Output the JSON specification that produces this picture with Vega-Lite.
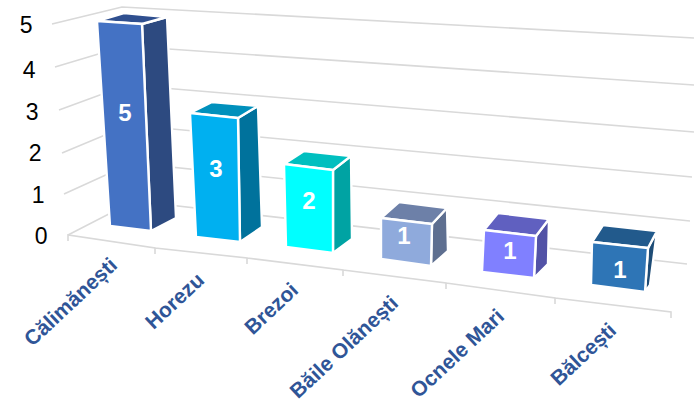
{
"$schema":"https://vega.github.io/schema/vega-lite/v6.json",
"width":600,"height":210,
"autosize":{"type":"none"},
"padding":{"left":70,"top":25,"right":24,"bottom":167},
"background":"white",
"config":{"view":{"stroke":null}},
"params":[
{"name":"catDx","value":{"Călimănești":-22.8,"Horezu":-42.5,"Brezoi":-53.7,"Băile Olănești":-62.6,"Ocnele Mari":-67.1,"Bălcești":-67.9}},
{"name":"catDy","value":{"Călimănești":15.6,"Horezu":17.7,"Brezoi":21,"Băile Olănești":30.5,"Ocnele Mari":44.1,"Bălcești":62.5}},
{"name":"numDx","value":{"Călimănești":5,"Horezu":-4,"Brezoi":-11,"Băile Olănești":-16,"Ocnele Mari":-10,"Bălcești":0}},
{"name":"numDy","value":{"Călimănești":89,"Horezu":61,"Brezoi":51,"Băile Olănești":44,"Ocnele Mari":59,"Bălcești":78}},
{"name":"tickDx","value":[0,-3,-6,-9,-12,-15]},
{"name":"tickDy","value":[1,2,2,3,3,0]}
],
"datasets":{
"bars":[
{"name":"Călimănești","value":5},
{"name":"Horezu","value":3},
{"name":"Brezoi","value":2},
{"name":"Băile Olănești","value":1},
{"name":"Ocnele Mari","value":1},
{"name":"Bălcești","value":1}
],
"levels":[{"level":0},{"level":1},{"level":2},{"level":3},{"level":4},{"level":5}]
},
"encoding":{
"x":{"field":"name","type":"nominal","sort":null,
"scale":{"type":"point","padding":0.5,"domain":["Călimănești","Horezu","Brezoi","Băile Olănești","Ocnele Mari","Bălcești"]},
"axis":{"title":null,"orient":"bottom","domain":false,"ticks":false,"grid":false,"labelAngle":-43,"labelAlign":"right","labelBaseline":"middle","labelPadding":0,"labelFont":"Liberation Sans","labelFontSize":21,"labelFontWeight":"bold","labelColor":"#2F5597","labelOverlap":false,"labelBound":false,"labelFlush":false,"labelLimit":300,"zindex":1,
"encoding":{"labels":{"dx":{"value":{"signal":"catDx[datum.value]"}},"dy":{"value":{"signal":"catDy[datum.value]"}}}}}},
"y":{"field":"value","type":"quantitative",
"scale":{"domain":[0,5],"nice":false},
"axis":{"title":null,"orient":"left","domain":false,"ticks":false,"grid":false,"values":[0,1,2,3,4,5],"format":"d","labelPadding":23,"labelFont":"Liberation Sans","labelFontSize":23,"labelColor":"#000000","labelOverlap":false,"labelBound":false,"labelFlush":false,
"encoding":{"labels":{"dx":{"value":{"signal":"tickDx[datum.value]"}},"dy":{"value":{"signal":"tickDy[datum.value]"}}}}}}
},
"layer":[
{"data":{"name":"levels"},
"mark":{"type":"point","filled":false,"size":4,"stroke":"#D9D9D9","strokeWidth":1.6,"opacity":1},
"encoding":{
"x":{"datum":"Călimănești","type":"nominal"},
"y":{"field":"level","type":"quantitative"},
"shape":{"field":"level","type":"nominal","legend":null,"scale":{"domain":[0,1,2,3,4,5],"range":[
"M-52 0L14 -34L567 29",
"M-56 1L12 -30L570 28",
"M-58 2L9 -26L572 26",
"M-61 1L7 -24L574 23",
"M-65 0L5 -21L574 18",
"M-68 -1L2 -18L574 13"
]}}
}},
{"data":{"values":[{"level":0}]},
"mark":{"type":"point","filled":false,"size":4,"stroke":"#D9D9D9","strokeWidth":1.6,"opacity":1,
"shape":"M-52 6L-52 0L35 13L35 19M35 13L127 23L127 29M127 23L223 35L223 41M223 35L326 48L326 54M326 48L435 63L435 69M435 63L551 77L551 83"},
"encoding":{
"x":{"datum":"Călimănești","type":"nominal"},
"y":{"field":"level","type":"quantitative"}
}},
{"data":{"name":"bars"},
"mark":{"type":"point","filled":true,"size":4,"stroke":"white","strokeWidth":2.4,"opacity":1},
"encoding":{
"color":{"field":"name","type":"nominal","legend":null,"scale":{"domain":["Călimănești","Horezu","Brezoi","Băile Olănești","Ocnele Mari","Bălcești"],"range":["#2D4A80","#00729C","#00A3A3","#5E6F90","#5252A6","#1E4C76"]}},
"shape":{"field":"name","type":"nominal","legend":null,"scale":{"domain":["Călimănești","Horezu","Brezoi","Băile Olănești","Ocnele Mari","Bălcești"],"range":[
"M22 -1L47 -8L56 193L31 206Z",
"M18 9L38 -3L42 118L20 133Z",
"M13 19L31 5L32 88L13 102Z",
"M12 31L27 15L28 58L11 73Z",
"M16 43L29 26L28 71L14 85Z",
"M28 55L37 38L30 92L25 99Z"
]}}
}},
{"data":{"name":"bars"},
"mark":{"type":"point","filled":true,"size":4,"stroke":"white","strokeWidth":2.4,"opacity":1},
"encoding":{
"color":{"field":"name","type":"nominal","legend":null,"scale":{"domain":["Călimănești","Horezu","Brezoi","Băile Olănești","Ocnele Mari","Bălcești"],"range":["#2F4F8F","#0090BC","#00BFBF","#6D80A8","#6060C0","#225A8C"]}},
"shape":{"field":"name","type":"nominal","legend":null,"scale":{"domain":["Călimănești","Horezu","Brezoi","Băile Olănești","Ocnele Mari","Bălcești"],"range":[
"M-23 -4L4 -12L47 -8L22 -1Z",
"M-30 4L-8 -7L38 -3L18 9Z",
"M-36 13L-16 0L31 5L13 19Z",
"M-39 25L-21 9L27 15L12 31Z",
"M-36 37L-22 20L29 26L16 43Z",
"M-28 49L-17 32L37 38L28 55Z"
]}}
}},
{"data":{"name":"bars"},
"mark":{"type":"point","filled":true,"size":4,"stroke":"white","strokeWidth":2.4,"opacity":1},
"encoding":{
"color":{"field":"name","type":"nominal","legend":null,"scale":{"domain":["Călimănești","Horezu","Brezoi","Băile Olănești","Ocnele Mari","Bălcești"],"range":["#4472C4","#00B0F0","#00FFFF","#8FAADC","#8080FF","#2E75B6"]}},
"shape":{"field":"name","type":"nominal","legend":null,"scale":{"domain":["Călimănești","Horezu","Brezoi","Băile Olănești","Ocnele Mari","Bălcești"],"range":[
"M-23 -4L22 -1L31 206L-10 201Z",
"M-30 4L18 9L20 133L-24 128Z",
"M-36 13L13 19L13 102L-34 96Z",
"M-39 25L12 31L11 73L-39 66Z",
"M-36 37L16 43L14 85L-38 79Z",
"M-28 49L28 55L25 99L-29 92Z"
]}}
}},
{"data":{"name":"bars"},
"mark":{"type":"text","font":"Liberation Sans","fontSize":24,"fontWeight":"bold","color":"white","align":"center","baseline":"middle",
"xOffset":{"expr":"numDx[datum.name]"},"yOffset":{"expr":"numDy[datum.name]"}},
"encoding":{"text":{"field":"value","type":"quantitative"}}
}
],
"resolve":{"scale":{"color":"independent","shape":"independent"}}
}
